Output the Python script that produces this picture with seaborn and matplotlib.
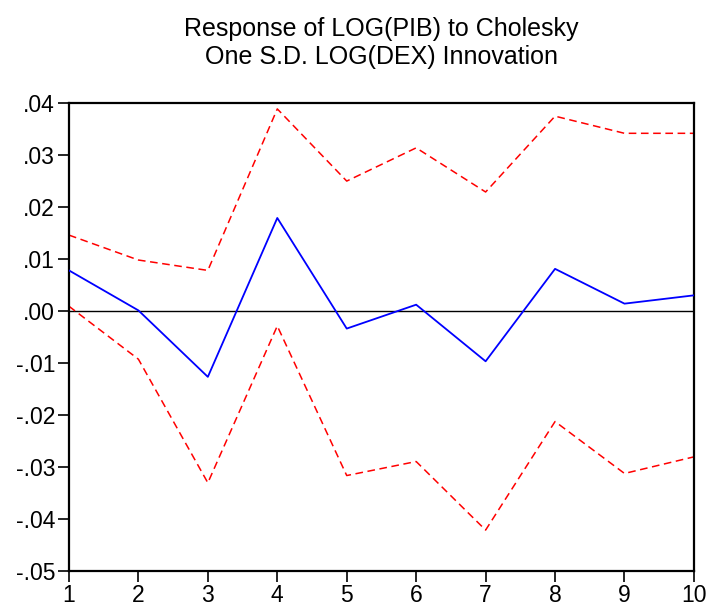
import numpy as np
import pandas as pd
import matplotlib
matplotlib.use("Agg")
import matplotlib.pyplot as plt
import seaborn as sns
from matplotlib.ticker import FuncFormatter

# Impulse response of LOG(PIB) to a one S.D. LOG(DEX) shock, with +/- 2 S.E. bands
periods = [1, 2, 3, 4, 5, 6, 7, 8, 9, 10]
response = [0.0078, 0.0001, -0.0127, 0.0179, -0.0034, 0.0012, -0.0097, 0.0081, 0.0014, 0.0030]
upper_band = [0.0146, 0.0098, 0.0078, 0.0389, 0.0250, 0.0314, 0.0229, 0.0375, 0.0342, 0.0342]
lower_band = [0.0009, -0.0093, -0.0331, -0.0029, -0.0317, -0.0290, -0.0422, -0.0213, -0.0313, -0.0281]
y_ticks = [0.04, 0.03, 0.02, 0.01, 0.00, -0.01, -0.02, -0.03, -0.04, -0.05]

sns.set_style("ticks")
plt.rcParams["font.family"] = ["Liberation Sans", "DejaVu Sans"]

df = pd.DataFrame({"period": periods, "response": response,
                   "upper": upper_band, "lower": lower_band})

fig = plt.figure(figsize=(7.11, 6.07), dpi=100)
ax = fig.add_axes([0.097, 0.060, 0.879, 0.770])

ax.axhline(0, color="black", linewidth=1.0, zorder=1)
sns.lineplot(data=df, x="period", y="response", ax=ax, color="#0000ff", linewidth=1.3, zorder=3)
sns.lineplot(data=df, x="period", y="upper", ax=ax, color="#ff0000", linewidth=1.1,
             linestyle=(0, (5, 3)), zorder=2)
sns.lineplot(data=df, x="period", y="lower", ax=ax, color="#ff0000", linewidth=1.1,
             linestyle=(0, (5, 3)), zorder=2)

ax.set_xlim(1, 10)
ax.set_ylim(-0.05, 0.04)
ax.set_xticks(periods)
ax.set_yticks(y_ticks)


def fmt(v, pos):
    s = f"{v:.2f}"
    if s.startswith("-0"):
        return "-" + s[2:]
    if s.startswith("0"):
        return s[1:]
    return s


ax.yaxis.set_major_formatter(FuncFormatter(fmt))
ax.set_xlabel("")
ax.set_ylabel("")
ax.tick_params(axis="both", direction="out", length=8, width=1.2, labelsize=16.5,
               colors="black", pad=2)
for sp in ax.spines.values():
    sp.set_visible(True)
    sp.set_linewidth(1.6)
    sp.set_color("black")

fig.text(0.5365, 1 - 43 / 607, "Response of LOG(PIB) to Cholesky\nOne S.D. LOG(DEX) Innovation",
         ha="center", va="center", fontsize=18, linespacing=1.2, color="black")

fig.savefig("out.png", dpi=100)
